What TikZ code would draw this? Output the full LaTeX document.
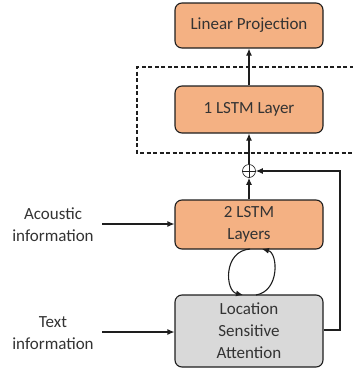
\documentclass[tikz,border=0pt]{standalone}
\usepackage{fontspec}
\setmainfont{Carlito}
\usetikzlibrary{arrows.meta}
\definecolor{boxorange}{RGB}{244,177,131}
\definecolor{boxgray}{RGB}{217,217,217}
\definecolor{edge}{RGB}{30,30,30}
\begin{document}
\begin{tikzpicture}[x=1pt,y=-1pt,
  blk/.style={draw=edge,line width=1.1pt,rounded corners=7pt,minimum width=148pt,align=center,
    font=\fontsize{17}{22}\selectfont,text=black!80},
  lbl/.style={align=center,font=\fontsize{17}{22}\selectfont,text=black!80},
  arr/.style={-{Latex[length=7pt,width=6pt]},line width=1.1pt,draw=edge}]
\useasboundingbox (0,0) rectangle (353,370);
\node[blk,fill=boxorange,minimum height=45pt] (lp) at (249,25.5) {Linear Projection};
\node[blk,fill=boxorange,minimum height=47pt] (l1) at (249,109.5) {1 LSTM Layer};
\node[blk,fill=boxorange,minimum height=49pt] (l2) at (249,224.5) {2 LSTM\\Layers};
\node[blk,fill=boxgray,minimum height=72pt] (lsa) at (249,331) {Location\\Sensitive\\Attention};
\node[draw=edge,circle,minimum size=13pt,inner sep=0pt,line width=0.6pt] (plus) at (249,171) {};
\draw[line width=0.6pt,draw=edge] (plus.north)--(plus.south) (plus.west)--(plus.east);
\draw[dash pattern=on 4pt off 2.5pt,line width=1.1pt,draw=edge] (360,67) -- (137,67) -- (137,153) -- (360,153);
\node[lbl] (ac) at (53,225) {Acoustic\\information};
\node[lbl] (tx) at (53,333) {Text\\information};
\coordinate (acend) at (102,224);
\coordinate (txend) at (102,332);
\draw[arr] (acend) -- (acend -| l2.west);
\draw[arr] (txend) -- (txend -| lsa.west);
\draw[arr] (l1.north) -- (lp.south);
\draw[arr] (plus.north) -- (l1.south);
\draw[arr] (l2.north) -- (plus.south);
\coordinate (rc) at (340,330);
\draw[arr] (lsa.east |- rc) -- (rc) |- (plus.east);
\coordinate (la) at (250,249);
\coordinate (lb) at (243,295);
\coordinate (ra) at (256,295);
\coordinate (rb) at (262,249);
\draw[arr] (la) .. controls (223,251) and (225,291) .. (lb);
\draw[arr] (ra) .. controls (280,291) and (278,253) .. (rb);
\end{tikzpicture}
\end{document}
